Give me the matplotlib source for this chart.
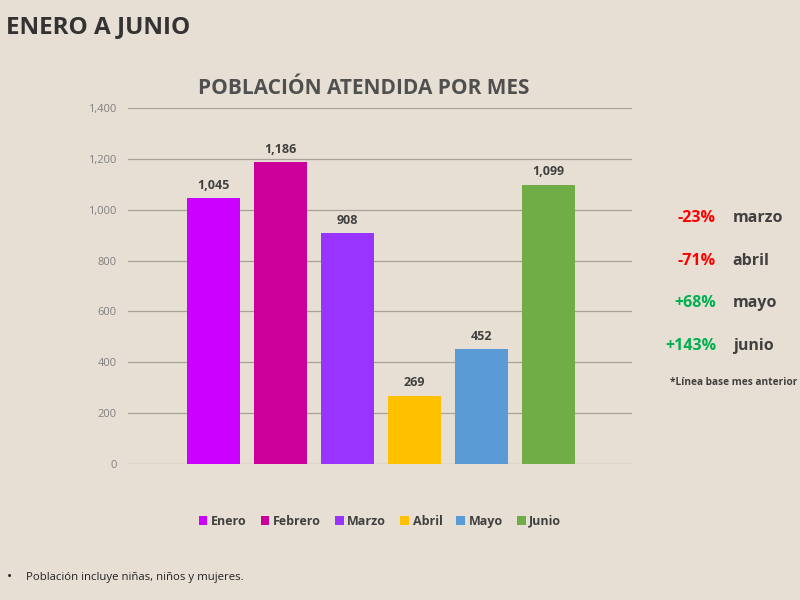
import matplotlib
matplotlib.use("Agg")
import matplotlib.pyplot as plt
from matplotlib.patches import Patch

months = ["Enero", "Febrero", "Marzo", "Abril", "Mayo", "Junio"]
values = [1045, 1186, 908, 269, 452, 1099]
colors = ["#cc00ff", "#cc0099", "#9933ff", "#ffc000", "#5b9bd5", "#70ad47"]
yticks = [0, 200, 400, 600, 800, 1000, 1200, 1400]
changes = ["-23%", "-71%", "+68%", "+143%"]
change_months = ["marzo", "abril", "mayo", "junio"]
change_colors = ["#ff0000", "#ff0000", "#00b050", "#00b050"]

FONT = "Open Sans"
BG = "#e7dfd4"
DARK = "#404040"

fig = plt.figure(figsize=(8, 6), dpi=100, facecolor=BG)
ax = fig.add_axes([0.16, 0.2267, 0.63, 0.5933], facecolor=BG)

x = list(range(len(months)))
bars = ax.bar(x, values, width=0.79, color=colors, zorder=3)
for xi, v in zip(x, values):
    ax.text(xi, v + 25, f"{v:,}", ha="center", va="bottom", fontsize=9,
            fontweight="bold", color=DARK, family=FONT)

ax.set_ylim(0, 1400)
ax.set_xlim(-1.28, 6.25)
ax.set_yticks(yticks)
ax.set_yticklabels([f"{t:,}" for t in yticks], family=FONT, fontsize=8, color="#808080")
ax.set_xticks([])
ax.yaxis.grid(True, color="#a8a298", linewidth=0.9, zorder=0)
ax.tick_params(axis="y", length=0, pad=8)
for s in ax.spines.values():
    s.set_visible(False)

fig.text(0.008, 0.955, "ENERO A JUNIO", family=FONT, fontsize=17.5, fontweight="bold",
         color="#333333", ha="left", va="center")
fig.text(0.455, 0.853, "POBLACIÓN ATENDIDA POR MES", family=FONT, fontsize=15,
         fontweight="bold", color="#505050", ha="center", va="center")

handles = [Patch(facecolor=c, label=m) for c, m in zip(colors, months)]
leg = fig.legend(handles=handles, loc="center", bbox_to_anchor=(0.475, 0.131), ncol=6,
                 frameon=False, handlelength=0.7, handleheight=0.7, handletextpad=0.3,
                 columnspacing=1.1, prop={"family": FONT, "weight": "bold", "size": 9})
for t in leg.get_texts():
    t.set_color(DARK)

ys = [0.637, 0.565, 0.495, 0.423]
for y, c, m, col in zip(ys, changes, change_months, change_colors):
    fig.text(0.895, y, c, family=FONT, fontsize=11.5, fontweight="bold", color=col,
             ha="right", va="center")
    fig.text(0.916, y, m, family=FONT, fontsize=11.5, fontweight="bold", color=DARK,
             ha="left", va="center")
fig.text(0.837, 0.362, "*Línea base mes anterior", family=FONT, fontsize=7.3,
         fontweight="bold", color=DARK, ha="left", va="center")

fig.text(0.008, 0.037, "•", family=FONT, fontsize=10, color="#222222", ha="left", va="center")
fig.text(0.033, 0.037, "Población incluye niñas, niños y mujeres.", family=FONT, fontsize=8.2,
         color="#222222", ha="left", va="center")

fig.savefig("out.png", dpi=100, facecolor=BG)
